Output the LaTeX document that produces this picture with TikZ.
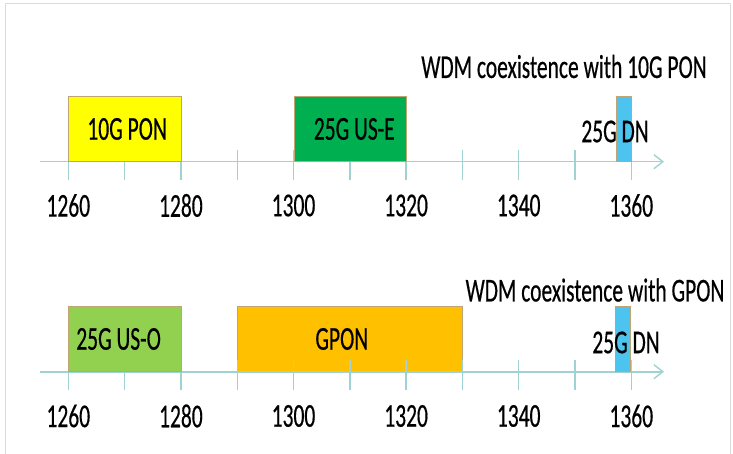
\documentclass[tikz,border=0pt]{standalone}
\usepackage{fontspec}
\setmainfont[FakeBold=0.6]{Carlito}
\usepackage{xcolor}
\usepackage{graphicx}
\usepackage{tikz}
\usetikzlibrary{arrows.meta}

\definecolor{axiscol}{RGB}{160,210,210}
\definecolor{edgecol}{RGB}{190,165,115}
\definecolor{ponyellow}{RGB}{255,255,0}
\definecolor{usegreen}{RGB}{0,176,80}
\definecolor{usolime}{RGB}{146,208,80}
\definecolor{gponorange}{RGB}{255,192,0}
\definecolor{dnblue}{RGB}{77,196,240}

% text of the chart is drawn tall and narrow
\newcommand{\tall}[1]{\scalebox{1}[1.55]{#1}}

\begin{document}
\begin{tikzpicture}[
        x=1pt, y=-1pt,
        font=\fontsize{21.5}{25}\selectfont,
        band/.style={draw=edgecol, line width=1pt, anchor=south west, inner sep=0pt},
        lbl/.style={inner sep=0pt},
        axis/.style={draw=axiscol, line width=1.6pt, -{Straight Barb[length=9pt,width=14pt,line width=1.4pt]}},
        tick/.style={draw=axiscol, line width=1.4pt}
    ]
    \useasboundingbox (0,0) rectangle (733,454);
    \draw[black!14, line width=1pt] (5,454) -- (5,4) -- (730.5,4) -- (730.5,454);

    % ---- WDM coexistence with 10G PON ----
    \node[lbl] (title1) at (564,66.5) {\tall{WDM coexistence with 10G PON}};
    \coordinate (a1s) at (40,161.7);
    \coordinate (a1e) at (664,161.7);
    \draw[axis] (a1s) -- (a1e);
    \foreach \w in {0,...,10}
        \draw[tick] (68.3+56.3*\w,149.7) -- (68.3+56.3*\w,179.7);
    \foreach \w/\t in {0/1260,2/1280,4/1300,6/1320,8/1340,10/1360}
        \node[lbl] (top\t) at (68.3+56.3*\w,205.5) {\tall{\t}};
    \node[band, fill=ponyellow, minimum width=112.6pt, minimum height=64.4pt] (tenpon) at (68.3,161.7) {};
    \node[lbl] (tenponlbl) at ([xshift=2pt]tenpon.center) {\tall{10G PON}};
    \node[band, fill=usegreen, minimum width=112.6pt, minimum height=64.4pt] (usE) at (293.5,161.7) {};
    \node[lbl] (usElbl) at ([xshift=4pt]usE.center) {\tall{25G US-E}};
    \node[band, fill=dnblue, minimum width=15pt, minimum height=64.4pt] (dnA) at (615.7,161.7) {};
    \node[lbl] (dnAlbl) at (615,131.5) {\tall{25G DN}};

    % ---- WDM coexistence with GPON ----
    \node[lbl] (title2) at (595,290) {\tall{WDM coexistence with GPON}};
    \node[band, fill=gponorange, minimum width=225.2pt, minimum height=64.4pt] (gpon) at (236.7,371.7) {};
    \node[lbl] (gponlbl) at ([xshift=-8pt]gpon.center) {\tall{GPON}};
    \coordinate (a2s) at (40,371.7);
    \coordinate (a2e) at (664,371.7);
    \draw[axis] (a2s) -- (a2e);
    \foreach \w in {0,...,10}
        \draw[tick] (68.3+56.3*\w,359.7) -- (68.3+56.3*\w,389.7);
    \foreach \w/\t in {0/1260,2/1280,4/1300,6/1320,8/1340,10/1360}
        \node[lbl] (bot\t) at (68.3+56.3*\w,416) {\tall{\t}};
    \node[band, fill=usolime, minimum width=112.6pt, minimum height=64.4pt] (usO) at (68.3,371.7) {};
    \node[lbl] (usOlbl) at ([xshift=-6.5pt]usO.center) {\tall{25G US-O}};
    \node[band, fill=dnblue, minimum width=15.5pt, minimum height=64.4pt] (dnB) at (614.5,371.7) {};
    \node[lbl] (dnBlbl) at (626,342.5) {\tall{25G DN}};
\end{tikzpicture}
\end{document}
